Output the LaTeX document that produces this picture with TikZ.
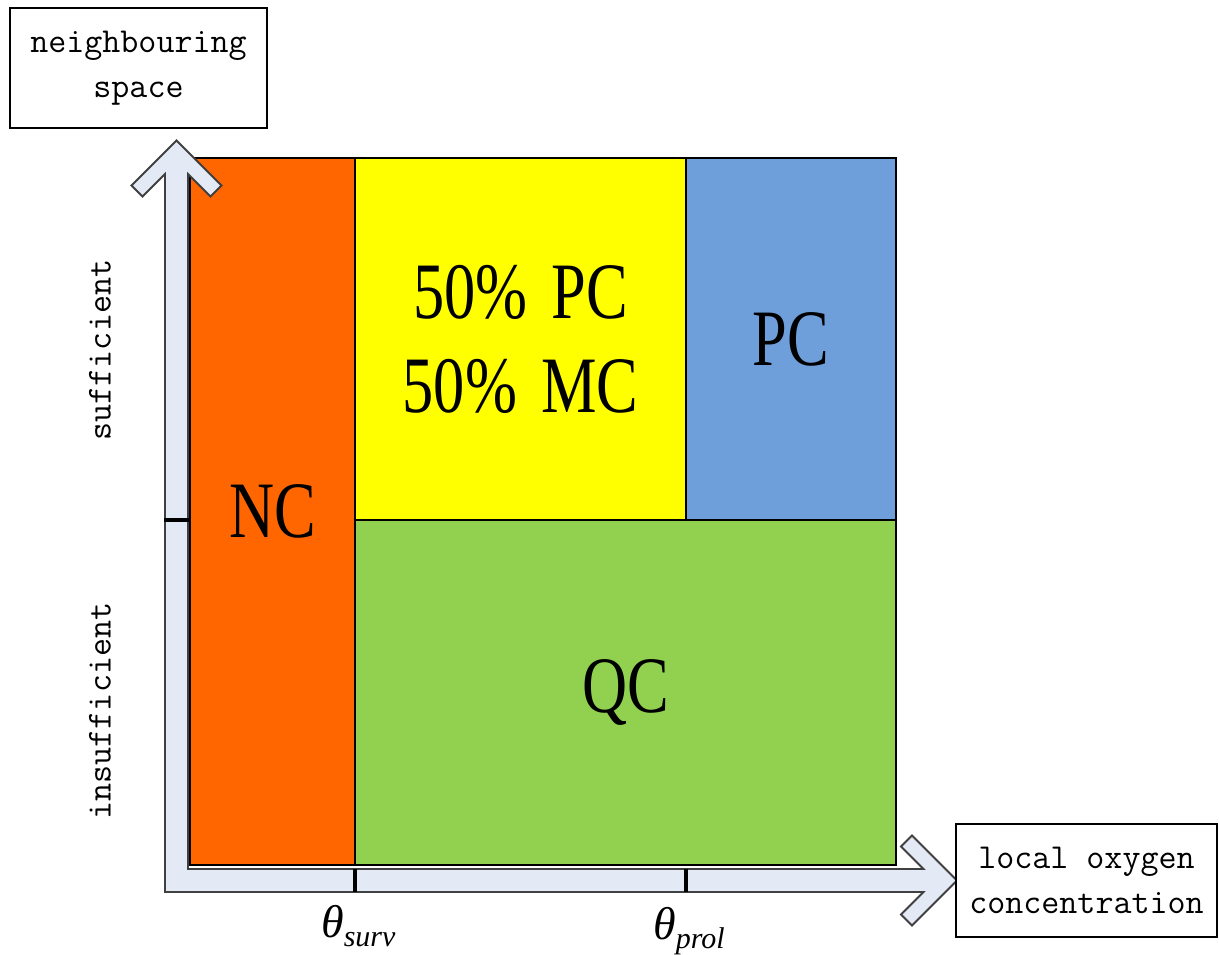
\documentclass[tikz,border=0pt]{standalone}
\usepackage{fontspec}
\setmainfont{Liberation Serif}
\newfontfamily\labelfont{Latin Modern Mono}
\newfontfamily\cellfont[FakeStretch=0.78]{Liberation Serif}
\usepackage{xcolor}
\usepackage{tikz}
\usetikzlibrary{positioning}

\definecolor{ncorange}{HTML}{FF6600}
\definecolor{mixyellow}{HTML}{FFFF00}
\definecolor{pcblue}{HTML}{6F9FDB}
\definecolor{qcgreen}{HTML}{92D050}
\definecolor{axisfill}{HTML}{E4EAF5}
\definecolor{axisline}{HTML}{404040}

\tikzstyle{cell} = [rectangle, draw=black, line width=2.8pt, inner sep=0pt, outer sep=0pt, align=center, font=\cellfont\fontsize{80}{94}\selectfont]
\tikzstyle{namebox} = [rectangle, draw=black, line width=2.5pt, fill=white, inner sep=0pt, align=center, font=\labelfont\fontsize{35}{45}\selectfont]
\tikzstyle{sidetext} = [rotate=90, inner sep=0pt, font=\labelfont\fontsize{35}{45}\selectfont]
\tikzstyle{thresh} = [anchor=base west, inner sep=0pt]
\tikzstyle{tickmark} = [line width=4.5pt, black]
\tikzstyle{axis} = [fill=axisfill, draw=axisline, line width=1.8pt, line join=miter]

\newcommand{\threshold}[1]{{\fontsize{46}{50}\selectfont\itshape θ}\raisebox{-9pt}{\fontsize{30}{32}\selectfont\itshape #1}}

\begin{document}
\begin{tikzpicture}[x=1pt, y=-1pt]
\useasboundingbox (0,0) rectangle (1219,955);

% cells of the diagram
\node (nc) [cell, fill=ncorange, minimum width=165pt, minimum height=707pt] at (272.5,511.5) {NC};
\node (mix) [cell, fill=mixyellow, minimum width=331pt, minimum height=362pt] at (520.5,339) {50\%\hspace{24pt}PC\\50\%\hspace{24pt}MC};
\node (pc) [cell, fill=pcblue, minimum width=210pt, minimum height=362pt] at (791,339) {PC};
\node (qc) [cell, fill=qcgreen, minimum width=541pt, minimum height=345pt] at (625.5,692.5) {QC};

% axes
\draw [axis] (165,892) -- (923.5,892) -- (901,914.5) -- (912,925.5) -- (957,880.5)
  -- (912,835.5) -- (901,846.5) -- (923.5,869) -- (188,869) -- (188,174)
  -- (210.5,196.5) -- (221.5,185.5) -- (176.5,140.5) -- (131.5,185.5)
  -- (142.5,196.5) -- (165,174) -- cycle;

% ticks
\draw [tickmark] (164,520) -- (nc.west |- 0,520);
\draw [tickmark] (nc.south east |- 0,869) -- (nc.south east |- 0,892);
\draw [tickmark] (mix.south east |- 0,869) -- (mix.south east |- 0,892);

% axis names
\node (yname) [namebox, minimum width=257pt, minimum height=120pt] at (138.5,68) {neighbouring\\space};
\node (xname) [namebox, minimum width=261pt, minimum height=113pt] at (1086.5,880.5) {local oxygen\\concentration};

\node (suff) [sidetext] at (100,350) {sufficient};
\node (insuff) [sidetext] at (100,711) {insufficient};

\node (surv) [thresh] at (321,937) {\threshold{surv}};
\node (prol) [thresh] at (653,939) {\threshold{prol}};

\end{tikzpicture}
\end{document}
